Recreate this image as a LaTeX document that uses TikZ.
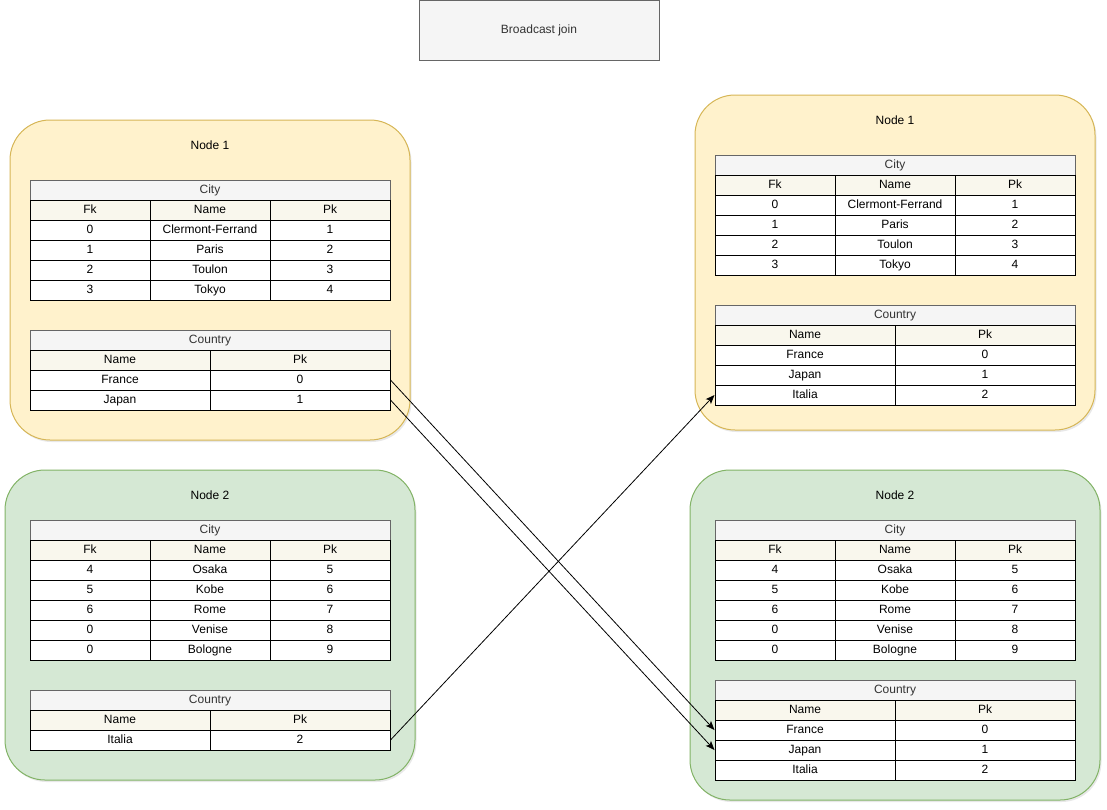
\documentclass[tikz,border=0pt]{standalone}
\usepackage{fontspec}
\setmainfont{Liberation Sans}
\usepackage{tikz}
\usetikzlibrary{arrows.meta,positioning,shadows}
\definecolor{yellowfill}{HTML}{FFF2CC}
\definecolor{yellowline}{HTML}{D6B656}
\definecolor{greenfill}{HTML}{D5E8D4}
\definecolor{greenline}{HTML}{82B366}
\definecolor{greyfill}{HTML}{F5F5F5}
\definecolor{greyline}{HTML}{666666}
\definecolor{greytext}{HTML}{333333}
\definecolor{beigefill}{HTML}{F9F7ED}

% City table: name, left x, top y, rows
\newcommand{\citytable}[4]{%
  \node[tblhead, minimum width=360pt] (#1) at ({#2+180},{#3+10}) {City};
  \foreach \h [count=\j] in {Fk,Name,Pk}
    \node[colhead, minimum width=120pt] (#1-h\j) at ({#2+120*\j-60},{#3+30}) {\h};
  \foreach \a/\b/\c [count=\i] in {#4}{
    \node[cell, minimum width=120pt] (#1-\i-1) at ({#2+60},{#3+30+20*\i}) {\a};
    \node[cell, minimum width=120pt] (#1-\i-2) at ({#2+180},{#3+30+20*\i}) {\b};
    \node[cell, minimum width=120pt] (#1-\i-3) at ({#2+300},{#3+30+20*\i}) {\c};
  }%
}
% Country table: name, left x, top y, rows
\newcommand{\countrytable}[4]{%
  \node[tblhead, minimum width=360pt] (#1) at ({#2+180},{#3+10}) {Country};
  \node[colhead, minimum width=180pt] (#1-h1) at ({#2+90},{#3+30}) {Name};
  \node[colhead, minimum width=180pt] (#1-h2) at ({#2+270},{#3+30}) {Pk};
  \foreach \a/\b [count=\i] in {#4}{
    \node[cell, minimum width=180pt] (#1-\i-1) at ({#2+90},{#3+30+20*\i}) {\a};
    \node[cell, minimum width=180pt] (#1-\i-2) at ({#2+270},{#3+30+20*\i}) {\b};
  }%
}

\begin{document}
\begin{tikzpicture}[
x=1pt, y=-1pt,
every node/.style={font=\fontsize{12}{14}\selectfont},
server/.style={rounded corners=40pt, line width=1pt, drop shadow={opacity=0.18, shadow xshift=1.5pt, shadow yshift=-2pt}},
yellowserver/.style={server, draw=yellowline, fill=yellowfill},
greenserver/.style={server, draw=greenline, fill=greenfill},
banner/.style={draw=greyline, fill=greyfill, text=greytext, line width=1pt, minimum width=240pt, minimum height=60pt, inner sep=0pt},
celltext/.style={line width=1pt, minimum height=20pt, inner sep=0pt, text height=8.7pt, text depth=2.3pt},
tblhead/.style={celltext, draw=greyline, fill=greyfill, text=greytext},
colhead/.style={celltext, draw=black, fill=beigefill},
cell/.style={celltext, draw=black, fill=white},
link/.style={-{Stealth[length=9pt, width=7pt, inset=2pt]}, line width=0.8pt, draw=black}
]
\useasboundingbox (0,0) rectangle (1107,809);

\node[banner] (title) at (539,30) {Broadcast join};

% left side
\draw[yellowserver] (10,120) rectangle (410,440);
\node (lnode1) at (210,145) {Node 1};
\citytable{l1city}{30}{180}{0/Clermont-Ferrand/1, 1/Paris/2, 2/Toulon/3, 3/Tokyo/4}
\countrytable{l1country}{30}{330}{France/0, Japan/1}

\draw[greenserver] (5,470) rectangle (415,780);
\node (lnode2) at (210,495) {Node 2};
\citytable{l2city}{30}{520}{4/Osaka/5, 5/Kobe/6, 6/Rome/7, 0/Venise/8, 0/Bologne/9}
\countrytable{l2country}{30}{690}{Italia/2}

% right side
\draw[yellowserver] (695,95) rectangle (1095,430);
\node (rnode1) at (895,120) {Node 1};
\citytable{r1city}{715}{155}{0/Clermont-Ferrand/1, 1/Paris/2, 2/Toulon/3, 3/Tokyo/4}
\countrytable{r1country}{715}{305}{France/0, Japan/1, Italia/2}

\draw[greenserver] (690,470) rectangle (1100,800);
\node (rnode2) at (895,495) {Node 2};
\citytable{r2city}{715}{520}{4/Osaka/5, 5/Kobe/6, 6/Rome/7, 0/Venise/8, 0/Bologne/9}
\countrytable{r2country}{715}{680}{France/0, Japan/1, Italia/2}

\draw[link] (l1country-1-2.east) -- (r2country-1-1.west);
\draw[link] (l1country-2-2.east) -- (r2country-2-1.west);
\draw[link] (l2country-1-2.east) -- (r1country-3-1.west);
\end{tikzpicture}
\end{document}
